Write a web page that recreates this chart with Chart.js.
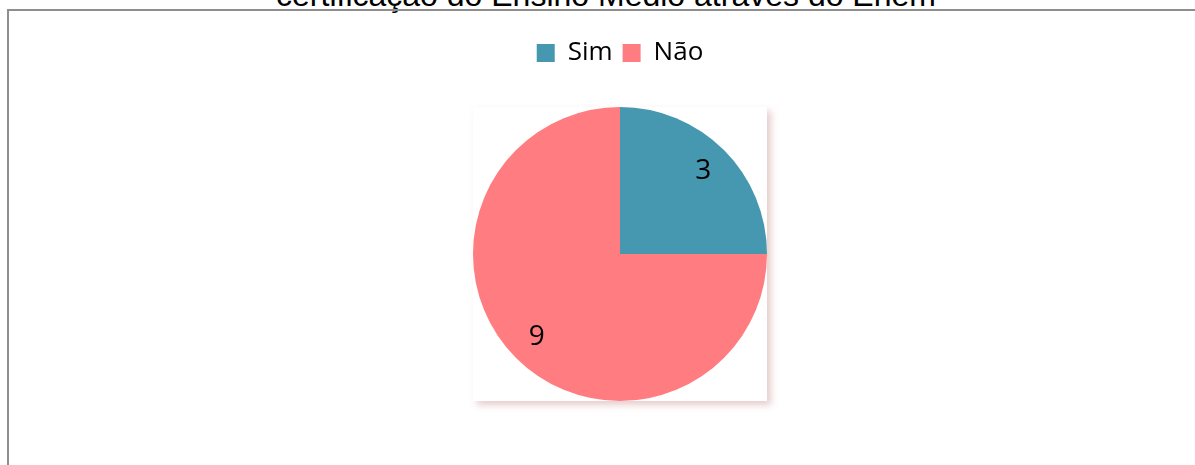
<!DOCTYPE html>
<html lang="pt">
<head>
<meta charset="UTF-8">
<title>Certificação do Ensino Médio através do Enem</title>
<style>
  html, body { margin: 0; padding: 0; background: #fff; overflow: hidden; }
  body { width: 1195px; height: 465px; position: relative; }
  #title {
    position: absolute; left: 0; top: -21px; width: 1212px;
    text-align: center; font: 32px/32px "Liberation Sans", Arial, sans-serif;
    color: #000; white-space: nowrap;
  }
  #frame {
    position: absolute; left: 7px; top: 9px; width: 1240px; height: 480px;
    border-left: 2px solid #8e8e8e; border-top: 2px solid #8e8e8e;
  }
  #wrap { position: absolute; left: 0; top: 9px; width: 1195px; height: 456px; }
</style>
</head>
<body>
<div id="title">certificação do Ensino Médio através do Enem</div>
<div id="frame"></div>
<div id="wrap"><canvas id="pie"></canvas></div>

<script src="https://cdn.jsdelivr.net/npm/chart.js"></script>
<script>
  const labels = ['Sim', 'Não'];
  const values = [3, 9];
  const colors = ['#4598b0', '#ff7c80'];

  // sombra atrás da área do gráfico
  const plotShadow = {
    id: 'plotShadow',
    beforeDatasetsDraw(chart) {
      const arc = chart.getDatasetMeta(0).data[0];
      if (!arc) return;
      const r = arc.outerRadius;
      const ctx = chart.ctx;
      ctx.save();
      ctx.shadowColor = 'rgba(190, 110, 110, 0.35)';
      ctx.shadowBlur = 7;
      ctx.shadowOffsetX = 4;
      ctx.shadowOffsetY = 4;
      ctx.fillStyle = '#fff';
      ctx.fillRect(arc.x - r, arc.y - r, 2 * r, 2 * r);
      ctx.restore();
    }
  };

  // rótulos de valor dentro das fatias
  const sliceLabels = {
    id: 'sliceLabels',
    afterDatasetsDraw(chart) {
      const ctx = chart.ctx;
      const meta = chart.getDatasetMeta(0);
      ctx.save();
      ctx.font = '28px "Open Sans", "Noto Sans", sans-serif';
      ctx.fillStyle = '#000';
      ctx.textAlign = 'center';
      ctx.textBaseline = 'middle';
      meta.data.forEach((arc, i) => {
        const mid = (arc.startAngle + arc.endAngle) / 2;
        const d = arc.outerRadius * 0.8;
        ctx.fillText(String(values[i]), arc.x + Math.cos(mid) * d, arc.y + Math.sin(mid) * d);
      });
      ctx.restore();
    }
  };

  new Chart(document.getElementById('pie'), {
    type: 'pie',
    data: {
      labels: labels,
      datasets: [{
        data: values,
        backgroundColor: colors,
        borderWidth: 0,
        radius: 147
      }]
    },
    options: {
      responsive: true,
      maintainAspectRatio: false,
      animation: false,
      layout: { padding: { top: 21, bottom: 33, left: 45, right: 0 } },
      plugins: {
        legend: {
          position: 'top',
          labels: {
            boxWidth: 18,
            boxHeight: 18,
            padding: 10,
            color: '#000',
            font: { family: '"Open Sans", "Noto Sans", sans-serif', size: 26 }
          }
        },
        tooltip: { enabled: false }
      }
    },
    plugins: [plotShadow, sliceLabels]
  });
</script>
</body>
</html>
